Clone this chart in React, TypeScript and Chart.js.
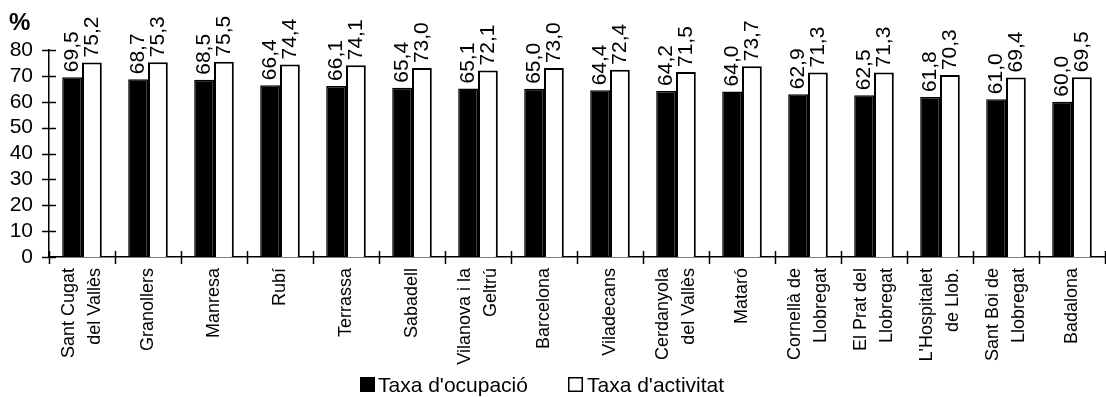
import React, { useEffect, useRef } from "react";
import { Chart, registerables } from "chart.js";

Chart.register(...registerables);

const categories: string[][] = [
  ["Sant Cugat", "del Vallès"],
  ["Granollers"],
  ["Manresa"],
  ["Rubí"],
  ["Terrassa"],
  ["Sabadell"],
  ["Vilanova i la", "Geltrú"],
  ["Barcelona"],
  ["Viladecans"],
  ["Cerdanyola", "del Vallès"],
  ["Mataró"],
  ["Cornellà de", "Llobregat"],
  ["El Prat del", "Llobregat"],
  ["L'Hospitalet", "de Llob."],
  ["Sant Boi de", "Llobregat"],
  ["Badalona"],
];

const ocupacio = [69.5, 68.7, 68.5, 66.4, 66.1, 65.4, 65.1, 65.0, 64.4, 64.2, 64.0, 62.9, 62.5, 61.8, 61.0, 60.0];
const activitat = [75.2, 75.3, 75.5, 74.4, 74.1, 73.0, 72.1, 73.0, 72.4, 71.5, 73.7, 71.3, 71.3, 70.3, 69.4, 69.5];

const seriesNames = ["Taxa d'ocupació", "Taxa d'activitat"];
const yTicks = [0, 10, 20, 30, 40, 50, 60, 70, 80];

const FONT = "'Liberation Sans', Arial, sans-serif";

const fmt = (v: number) => v.toFixed(1).replace(".", ",");

const customPlugin = {
  id: "custom",
  afterDraw(chart: any) {
    const ctx = chart.ctx as CanvasRenderingContext2D;
    const ys = chart.scales.y;
    const xs = chart.scales.x;
    const area = chart.chartArea;
    ctx.save();
    ctx.strokeStyle = "#000";
    ctx.lineWidth = 1.5;
    // y ticks crossing axis
    yTicks.forEach((t) => {
      const py = Math.round(ys.getPixelForValue(t)) + 0.5;
      ctx.beginPath();
      ctx.moveTo(area.left - 7, py);
      ctx.lineTo(area.left + 7, py);
      ctx.stroke();
    });
    // x separators
    const n = categories.length;
    const w = (area.right - area.left) / n;
    for (let i = 0; i <= n; i++) {
      const px = Math.round(area.left + i * w) + 0.5;
      ctx.beginPath();
      ctx.moveTo(px, area.bottom - 6);
      ctx.lineTo(px, area.bottom + 7);
      ctx.stroke();
    }
    // category labels (rotated, multi-line)
    ctx.fillStyle = "#000";
    ctx.font = `18px ${FONT}`;
    ctx.textAlign = "right";
    ctx.textBaseline = "middle";
    categories.forEach((lines, i) => {
      const cx = xs.getPixelForValue(i);
      const L = lines.length;
      lines.forEach((line, j) => {
        const x = cx + (j - (L - 1) / 2) * 26;
        ctx.save();
        ctx.translate(x, area.bottom + 11);
        ctx.rotate(-Math.PI / 2);
        ctx.fillText(line, 0, 0);
        ctx.restore();
      });
    });
    // data labels
    ctx.font = `21px ${FONT}`;
    ctx.textAlign = "left";
    ctx.textBaseline = "middle";
    chart.data.datasets.forEach((ds: any, di: number) => {
      const meta = chart.getDatasetMeta(di);
      meta.data.forEach((bar: any, i: number) => {
        ctx.save();
        ctx.translate(bar.x, bar.y - 5);
        ctx.rotate(-Math.PI / 2);
        ctx.fillText(fmt(ds.data[i]), 0, 0);
        ctx.restore();
      });
    });
    // % title
    ctx.font = `bold 24px ${FONT}`;
    ctx.textAlign = "left";
    ctx.textBaseline = "alphabetic";
    ctx.fillText("%", 9, 30);
    // legend
    ctx.font = `21px ${FONT}`;
    ctx.textBaseline = "alphabetic";
    const top = 377;
    ctx.fillStyle = "#000";
    ctx.fillRect(360, top, 15, 15);
    ctx.fillText(seriesNames[0], 378, 392);
    ctx.fillStyle = "#fff";
    ctx.fillRect(568, top, 15, 15);
    ctx.strokeStyle = "#000";
    ctx.lineWidth = 1.5;
    ctx.strokeRect(568.75, top + 0.75, 13.5, 13.5);
    ctx.fillStyle = "#000";
    ctx.fillText(seriesNames[1], 587, 392);
    ctx.restore();
  },
};

export default function App() {
  const ref = useRef<HTMLCanvasElement>(null);
  useEffect(() => {
    document.body.style.margin = "0";
    if (!ref.current) return;
    const chart = new Chart(ref.current, {
      type: "bar",
      data: {
        labels: categories.map((c) => c.join(" ")),
        datasets: [
          {
            label: seriesNames[0],
            data: ocupacio,
            backgroundColor: "#000",
            borderColor: "#000",
            borderWidth: 1.5,
            categoryPercentage: 0.6,
            barPercentage: 1,
          },
          {
            label: seriesNames[1],
            data: activitat,
            backgroundColor: "#fff",
            borderColor: "#000",
            borderWidth: 2,
            categoryPercentage: 0.6,
            barPercentage: 1,
          },
        ],
      },
      options: {
        animation: false,
        responsive: false,
        maintainAspectRatio: false,
        layout: { padding: { top: 50, right: 1, left: 0, bottom: 0 } },
        plugins: { legend: { display: false }, tooltip: { enabled: false } },
        scales: {
          x: {
            grid: { display: false, drawTicks: false },
            border: { display: true, color: "#000", width: 1.5 },
            ticks: { display: false },
            afterFit: (s: any) => {
              s.height = 140;
            },
          },
          y: {
            min: 0,
            max: 80,
            grid: { display: false, drawTicks: false },
            border: { display: true, color: "#000", width: 1.5 },
            ticks: {
              stepSize: 10,
              autoSkip: false,
              color: "#000",
              font: { family: FONT, size: 21 },
              padding: 16,
            },
            afterFit: (s: any) => {
              s.width = 49;
            },
          },
        },
      },
      plugins: [customPlugin],
    });
    return () => chart.destroy();
  }, []);
  return <canvas ref={ref} width={1106} height={397} style={{ display: "block" }} />;
}
